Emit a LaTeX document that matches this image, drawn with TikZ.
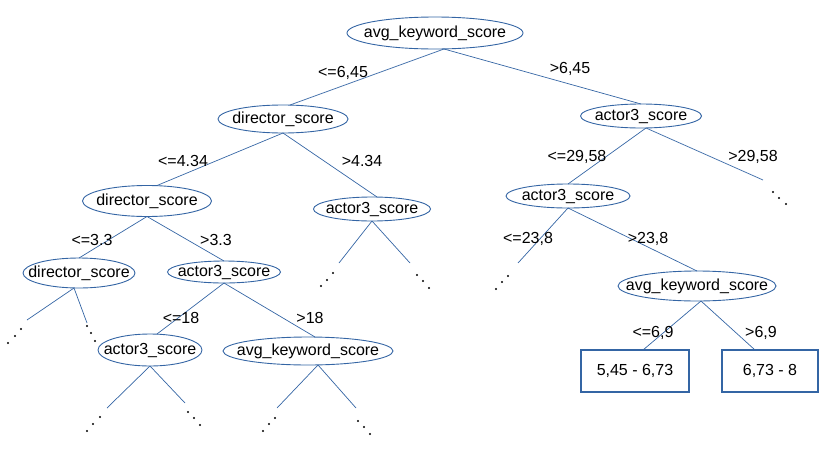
\documentclass[tikz,border=0pt]{standalone}
\usepackage{fontspec}
\setmainfont{Liberation Sans}
\usetikzlibrary{shapes.geometric,calc}
\definecolor{lob}{HTML}{3465A4}
\newcommand\etext[1]{\smash{\raisebox{-0.27em}{\makebox[0pt]{#1}}}}
\begin{document}
\begin{tikzpicture}[x=1pt,y=-1pt,
  every node/.style={font=\fontsize{16}{19}\selectfont},
  ell/.style={ellipse,draw=lob,line width=0.9pt,inner sep=0pt,outer sep=0pt},
  leaf/.style={rectangle,draw=lob,line width=1.2pt,inner sep=0pt,outer sep=0pt},
  edge/.style={draw=lob,line width=0.7pt},
  lab/.style={inner sep=0pt},
  dt/.style={fill=black}]
\useasboundingbox (0,0) rectangle (827,450);
% nodes
\node[ell,minimum width=176,minimum height=32] (root) at (435,33) {\etext{avg\_keyword\_score}};
\node[ell,minimum width=130,minimum height=28] (dL1) at (283,119) {\etext{director\_score}};
\node[ell,minimum width=121,minimum height=24] (aR1) at (641,116) {\etext{actor3\_score}};
\node[ell,minimum width=129,minimum height=31] (dL2) at (147,201) {\etext{director\_score}};
\node[ell,minimum width=117,minimum height=24] (aM) at (372,209) {\etext{actor3\_score}};
\node[ell,minimum width=124,minimum height=24] (aR2) at (568,196) {\etext{actor3\_score}};
\node[ell,minimum width=112,minimum height=30] (dL3) at (79,273) {\etext{director\_score}};
\node[ell,minimum width=113,minimum height=22] (aL3) at (224,272) {\etext{actor3\_score}};
\node[ell,minimum width=104,minimum height=32] (aL4) at (150,350) {\etext{actor3\_score}};
\node[ell,minimum width=170,minimum height=28] (avgL4) at (308,351) {\etext{avg\_keyword\_score}};
\node[ell,minimum width=158,minimum height=30] (avgR) at (697,286) {\etext{avg\_keyword\_score}};
\node[leaf,minimum width=108,minimum height=42] (box1) at (635,371) {5,45 - 6,73};
\node[leaf,minimum width=96,minimum height=42] (box2) at (770,371) {6,73 - 8};
% open ends
\coordinate (eR1) at (763,180);
\coordinate (eL3a) at (27,320);
\coordinate (eL3b) at (87,323);
\coordinate (eL4a) at (107,408);
\coordinate (eL4b) at (185,403);
\coordinate (eAvga) at (277,408);
\coordinate (eAvgb) at (356,408);
\coordinate (eMa) at (339,263);
\coordinate (eMb) at (410,263);
\coordinate (eR2) at (518,263);
% edges
\draw[edge] ($(root.south)+(9,0)$) -- ($(dL1.north)+(7,0)$);
\draw[edge] ($(root.south)+(9,0)$) -- (aR1.north);
\draw[edge] (dL1.south) -- ($(dL2.north)+(10,0)$);
\draw[edge] (dL1.south) -- ($(aM.north)+(5,0)$);
\draw[edge] ($(aR1.south)+(5,0)$) -- (aR2.north);
\draw[edge] ($(aR1.south)+(5,0)$) -- (eR1);
\draw[edge] (dL2.south) -- (dL3.north);
\draw[edge] (dL2.south) -- (aL3.north);
\draw[edge] ($(dL3.south)+(-5,0)$) -- (eL3a);
\draw[edge] ($(dL3.south)+(-5,0)$) -- (eL3b);
\draw[edge] (aL3.south) -- ($(aL4.north)+(7,0)$);
\draw[edge] (aL3.south) -- ($(avgL4.north)+(7,0)$);
\draw[edge] (aL4.south) -- (eL4a);
\draw[edge] (aL4.south) -- (eL4b);
\draw[edge] ($(avgL4.south)+(10,0)$) -- (eAvga);
\draw[edge] ($(avgL4.south)+(10,0)$) -- (eAvgb);
\draw[edge] (aM.south) -- (eMa);
\draw[edge] (aM.south) -- (eMb);
\draw[edge] (aR2.south) -- (eR2);
\draw[edge] (aR2.south) -- (avgR.north);
\draw[edge] ($(avgR.south)+(4,0)$) -- ($(box1.north)+(8,0)$);
\draw[edge] ($(avgR.south)+(4,0)$) -- ($(box2.north)+(-15,0)$);
% labels
\node[lab] (l1) at (343,73) {<=6,45};
\node[lab] (l2) at (570,69) {>6,45};
\node[lab] (l3) at (183,161) {<=4.34};
\node[lab] (l4) at (362,161) {>4.34};
\node[lab] (l5) at (577,157) {<=29,58};
\node[lab] (l6) at (753,157) {>29,58};
\node[lab] (l7) at (92,240) {<=3.3};
\node[lab] (l8) at (216,240) {>3.3};
\node[lab] (l9) at (528,239) {<=23,8};
\node[lab] (l10) at (648,239) {>23,8};
\node[lab] (l11) at (181,318) {<=18};
\node[lab] (l12) at (310,318) {>18};
\node[lab] (l13) at (653,333) {<=6,9};
\node[lab] (l14) at (761,333) {>6,9};
% continuation dots
\foreach \p in {(21,329),(15,336),(8,343),
                (87,326),(91,333),(95,341),
                (100,417),(93,424),(87,431),
                (188,412),(194,418),(200,425),
                (275,418),(269,424),(263,431),
                (358,421),(364,427),(370,434),
                (333,273),(327,280),(321,286),
                (417,275),(423,281),(429,288),
                (508,276),(502,282),(496,289),
                (773,192),(779,198),(786,204)}
  \fill[dt] \p circle (1.1);
\end{tikzpicture}
\end{document}
